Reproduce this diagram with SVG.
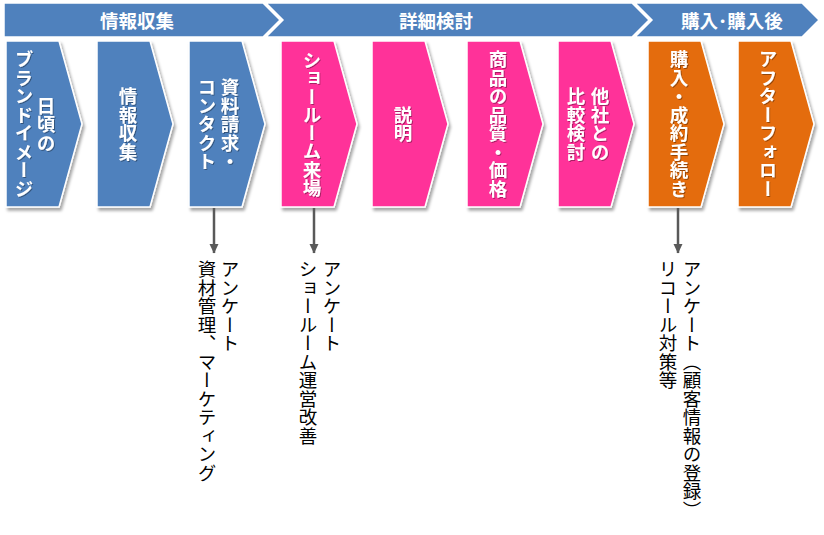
<svg xmlns="http://www.w3.org/2000/svg" width="824" height="535" viewBox="0 0 824 535">
<defs>
<filter id="sh" x="-20%" y="-10%" width="140%" height="130%">
<feDropShadow dx="2" dy="3" stdDeviation="1.8" flood-color="#000" flood-opacity="0.35"/>
</filter>
<filter id="tsh" x="-20%" y="-10%" width="140%" height="120%">
<feDropShadow dx="1" dy="1" stdDeviation="0.6" flood-color="#000" flood-opacity="0.35"/>
</filter>
<marker id="arr" markerUnits="userSpaceOnUse" markerWidth="10" markerHeight="10" viewBox="0 0 10 10" refX="9" refY="5" orient="auto">
<path d="M0,0.5 L9.5,5 L0,9.5 Z" fill="#595959"/>
</marker>
</defs>
<style>
.ban{fill:#4F81BD;stroke:#fff;stroke-width:1.5}
.bt{font-family:"Noto Sans CJK JP","Noto Sans",sans-serif;font-weight:bold;font-size:18.5px;fill:#fff;text-anchor:middle;dominant-baseline:central}
.blue{fill:#4F81BD}
.pink{fill:#FF3399}
.orange{fill:#E46C0A}
.box{stroke:#fff;stroke-width:1.5;filter:url(#sh)}
.vt{font-family:"Noto Sans CJK JP","Noto Sans",sans-serif;font-weight:bold;font-size:18.5px;fill:#fff;text-anchor:middle;writing-mode:vertical-rl;filter:url(#tsh)}
.nt{font-family:"Noto Sans CJK JP","Noto Sans",sans-serif;font-size:18.5px;fill:#000;writing-mode:vertical-rl}
.con{stroke:#595959;stroke-width:2.5;fill:none}
</style>
<rect width="824" height="535" fill="#fff"/>
<g id="banner">
<polygon class="ban" points="4,3 263,3 280,20 263,37 4,37"/>
<polygon class="ban" points="266,3 632,3 649,20 632,37 266,37 283,20"/>
<polygon class="ban" points="635,3 802,3 819,20 802,37 635,37 652,20"/>
<text class="bt" x="137" y="20">情報収集</text>
<text class="bt" x="436" y="20">詳細検討</text>
<text class="bt" x="732" y="20">購入･購入後</text>
</g>
<g id="n1"><polygon class="box blue" points="6,41 59,41 82,124 59,207 6,207"/>
<text class="vt" x="46" y="124">日頃の</text><text class="vt" x="24" y="124">ブランドイメージ</text></g>
<g id="n2"><polygon class="box blue" points="97,41 150,41 173,124 150,207 97,207"/>
<text class="vt" x="128" y="124">情報収集</text></g>
<g id="n3"><polygon class="box blue" points="189,41 242,41 265,124 242,207 189,207"/>
<text class="vt" x="230" y="124">資料請求・</text><text class="vt" x="207" y="124">コンタクト</text></g>
<g id="n4"><polygon class="box pink" points="281,41 334,41 357,124 334,207 281,207"/>
<text class="vt" x="312" y="124" textLength="146" lengthAdjust="spacing">ショールーム来場</text></g>
<g id="n5"><polygon class="box pink" points="372,41 425,41 448,124 425,207 372,207"/>
<text class="vt" x="403" y="124">説明</text></g>
<g id="n6"><polygon class="box pink" points="467,41 520,41 543,124 520,207 467,207"/>
<text class="vt" x="498" y="124">商品の品質・価格</text></g>
<g id="n7"><polygon class="box pink" points="558,41 611,41 634,124 611,207 558,207"/>
<text class="vt" x="600" y="124">他社との</text><text class="vt" x="576" y="124">比較検討</text></g>
<g id="n8"><polygon class="box orange" points="648,41 701,41 724,124 701,207 648,207"/>
<text class="vt" x="679" y="124">購入・成約手続き</text></g>
<g id="n9"><polygon class="box orange" points="738,41 791,41 814,124 791,207 738,207"/>
<text class="vt" x="768" y="124">アフターフォロー</text></g>
<g id="connectors">
<line class="con" x1="214" y1="208" x2="214" y2="253" marker-end="url(#arr)"/>
<line class="con" x1="314" y1="208" x2="314" y2="253" marker-end="url(#arr)"/>
<line class="con" x1="678" y1="208" x2="678" y2="253" marker-end="url(#arr)"/>
</g>
<g id="notes">
<text class="nt" x="230" y="260">アンケート</text>
<text class="nt" x="207" y="260">資材管理、マーケティング</text>
<text class="nt" x="332" y="260">アンケート</text>
<text class="nt" x="308" y="260">ショールーム運営改善</text>
<text class="nt" x="692" y="260">アンケート（顧客情報の登録）</text>
<text class="nt" x="668" y="260">リコール対策等</text>
</g>
</svg>
